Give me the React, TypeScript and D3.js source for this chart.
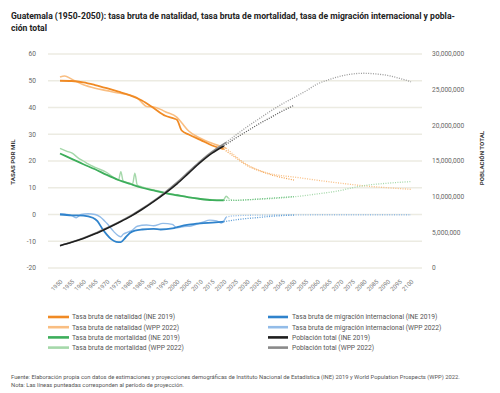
import * as d3 from "d3"

// Tasa bruta de natalidad (por mil)
const natINE: [number, number][] = [[1950, 50.0], [1955, 49.9], [1960, 49.4], [1965, 48.4], [1970, 47.2], [1975, 45.9], [1980, 44.5], [1985, 42.6], [1990, 39.8], [1995, 36.9], [1999, 35.8], [2000, 35.4], [2002, 31.4], [2005, 29.9], [2010, 27.9], [2015, 25.8], [2020, 24.4]]
const natINEProj: [number, number][] = [[2020, 24.4], [2025, 21.3], [2030, 18.3], [2035, 16.4], [2040, 14.9], [2045, 13.8], [2050, 12.9]]
const natWPP: [number, number][] = [[1950, 51.4], [1952, 51.8], [1955, 50.6], [1960, 48.5], [1965, 47.2], [1970, 46.3], [1975, 45.4], [1980, 44.6], [1983, 43.6], [1985, 41.8], [1987, 40.4], [1990, 40.2], [1993, 39.3], [1995, 38.4], [2000, 36.3], [2002, 34.3], [2005, 31.2], [2010, 28.5], [2015, 26.6], [2021, 24.8]]
const natWPPProj: [number, number][] = [[2021, 24.8], [2025, 21.8], [2030, 18.6], [2035, 16.6], [2040, 15.2], [2045, 14.5], [2050, 14.0], [2060, 12.8], [2070, 11.7], [2080, 10.7], [2090, 10.0], [2100, 9.4]]

// Tasa bruta de mortalidad
const morINE: [number, number][] = [[1950, 22.8], [1955, 20.8], [1960, 18.8], [1965, 16.9], [1970, 14.8], [1975, 12.9], [1980, 11.4], [1985, 10.0], [1990, 9.0], [1995, 8.0], [2000, 7.2], [2005, 6.4], [2010, 5.8], [2015, 5.4], [2020, 5.3]]
const morINEProj: [number, number][] = [[2020, 5.3], [2025, 5.3], [2030, 5.5], [2035, 5.8], [2040, 6.1], [2045, 6.4], [2050, 6.7]]
const morWPP: [number, number][] = [[1950, 24.7], [1953, 23.6], [1955, 23.0], [1958, 21.0], [1960, 20.0], [1962, 18.9], [1965, 17.6], [1970, 15.7], [1973, 13.8], [1975, 12.9], [1976, 16.0], [1977, 12.5], [1980, 11.7], [1981, 11.4], [1982, 15.4], [1983, 11.0], [1985, 10.3], [1990, 9.2], [1995, 8.2], [2000, 7.3], [2005, 6.5], [2010, 5.9], [2015, 5.5], [2019, 5.4], [2020, 5.6], [2021, 6.8], [2022, 6.0]]
const morWPPProj: [number, number][] = [[2022, 6.0], [2025, 5.3], [2030, 5.5], [2040, 5.9], [2050, 6.6], [2060, 7.7], [2070, 9.0], [2075, 10.0], [2080, 10.8], [2090, 11.7], [2100, 12.3]]

// Tasa bruta de migración internacional
const migINE: [number, number][] = [[1950, 0.0], [1955, -0.3], [1960, -0.4], [1964, -1.2], [1966, -2.5], [1968, -5.2], [1970, -7.5], [1972, -9.3], [1974, -10.2], [1976, -10.3], [1978, -8.6], [1980, -6.8], [1982, -6.0], [1985, -5.6], [1990, -5.4], [1993, -5.6], [1998, -5.2], [2001, -4.5], [2005, -3.8], [2010, -3.3], [2015, -3.0], [2020, -2.7]]
const migINEProj: [number, number][] = [[2020, -2.7], [2025, -2.0], [2030, -1.5], [2035, -1.1], [2040, -0.7], [2045, -0.4], [2050, -0.2]]
const migWPP: [number, number][] = [[1950, 0.3], [1955, -0.4], [1957, -1.2], [1959, 0.0], [1962, 0.3], [1965, 0.0], [1967, -0.8], [1970, -3.3], [1973, -6.4], [1975, -8.0], [1976, -8.3], [1977, -7.4], [1979, -6.6], [1981, -5.8], [1983, -4.4], [1987, -3.9], [1990, -4.2], [1994, -3.3], [1998, -3.7], [2000, -5.0], [2003, -4.5], [2006, -4.3], [2011, -2.9], [2014, -2.1], [2017, -2.4], [2019, -3.2], [2021, -1.0]]
const migWPPProj: [number, number][] = [[2021, -1.0], [2023, -0.6], [2030, -0.3], [2040, -0.2], [2060, -0.1], [2100, -0.1]]

// Población total (millones)
const popINE: [number, number][] = [[1950, 3.12], [1955, 3.6], [1960, 4.15], [1965, 4.8], [1970, 5.55], [1975, 6.35], [1980, 7.2], [1985, 8.2], [1990, 9.3], [1995, 10.5], [2000, 11.8], [2005, 13.3], [2010, 14.8], [2015, 16.1], [2020, 17.1]]
const popINEProj: [number, number][] = [[2020, 17.1], [2025, 18.2], [2030, 19.2], [2035, 20.2], [2040, 21.1], [2045, 22.0], [2050, 22.8]]
const popWPP: [number, number][] = [[1950, 3.15], [1955, 3.64], [1960, 4.2], [1965, 4.86], [1970, 5.62], [1975, 6.42], [1980, 7.28], [1985, 8.3], [1990, 9.4], [1995, 10.65], [2000, 12.0], [2005, 13.5], [2010, 15.0], [2015, 16.3], [2021, 17.6]]
const popWPPProj: [number, number][] = [[2021, 17.6], [2025, 18.6], [2030, 19.8], [2035, 20.9], [2040, 22.0], [2045, 23.0], [2050, 23.9], [2055, 24.8], [2060, 25.8], [2065, 26.4], [2070, 26.9], [2075, 27.2], [2080, 27.3], [2085, 27.2], [2090, 27.0], [2095, 26.6], [2100, 26.1]]

const leftTicks = [-20, -10, 0, 10, 20, 30, 40, 50, 60]
const rightTicks = [0, 5000000, 10000000, 15000000, 20000000, 25000000, 30000000]
const yearTicks = d3.range(1950, 2101, 5)

const legendLeft = [
  { label: "Tasa bruta de natalidad (INE 2019)", color: "#F08A24" },
  { label: "Tasa bruta de natalidad (WPP 2022)", color: "#F9BE82" },
  { label: "Tasa bruta de mortalidad (INE 2019)", color: "#3DAE5B" },
  { label: "Tasa bruta de mortalidad (WPP 2022)", color: "#A5D8AA" },
]
const legendRight = [
  { label: "Tasa bruta de migración internacional (INE 2019)", color: "#2F83CC" },
  { label: "Tasa bruta de migración internacional  (WPP 2022)", color: "#93BCE8" },
  { label: "Población total (INE 2019)", color: "#1E1E1E" },
  { label: "Población total  (WPP 2022)", color: "#8A8A8A" },
]

const FONT = "Roboto, sans-serif"

export default function App() {
  const x = d3.scaleLinear().domain([1950, 2100]).range([60, 411])
  const yL = d3.scaleLinear().domain([-20, 60]).range([268, 54])
  const yR = d3.scaleLinear().domain([0, 30000000]).range([268, 54])

  const rateLine = d3.line<[number, number]>().x((d) => x(d[0])).y((d) => yL(d[1])).curve(d3.curveMonotoneX)
  const popLine = d3.line<[number, number]>().x((d) => x(d[0])).y((d) => yR(d[1] * 1e6)).curve(d3.curveMonotoneX)

  const solid = [
    { d: rateLine(natWPP), c: "#F9BE82", w: 1.6 },
    { d: rateLine(natINE), c: "#F08A24", w: 1.8 },
    { d: rateLine(morWPP), c: "#A5D8AA", w: 1.4 },
    { d: rateLine(morINE), c: "#3DAE5B", w: 1.8 },
    { d: rateLine(migWPP), c: "#93BCE8", w: 1.4 },
    { d: rateLine(migINE), c: "#2F83CC", w: 1.8 },
    { d: popLine(popWPP), c: "#8A8A8A", w: 1.6 },
    { d: popLine(popINE), c: "#1E1E1E", w: 1.6 },
  ]
  const dotted = [
    { d: rateLine(natWPPProj), c: "#F9BE82" },
    { d: rateLine(natINEProj), c: "#F3A24E" },
    { d: rateLine(morWPPProj), c: "#A5D8AA" },
    { d: rateLine(morINEProj), c: "#6CC281" },
    { d: rateLine(migWPPProj), c: "#93BCE8" },
    { d: rateLine(migINEProj), c: "#5A9BD6" },
    { d: popLine(popWPPProj), c: "#9A9A9A" },
    { d: popLine(popINEProj), c: "#555" },
  ]
  const fmt = d3.format(",")

  return (
    <svg width={500} height={393} style={{ position: "absolute", left: 0, top: 0, background: "#fff" }} fontFamily={FONT}>
      <text x={11} y={19} fontSize={8.6} fontWeight={700} fill="#222">
        Guatemala (1950-2050): tasa bruta de natalidad, tasa bruta de mortalidad, tasa de migración internacional y pobla-
      </text>
      <text x={11} y={31} fontSize={8.6} fontWeight={700} fill="#222">ción total</text>

      {leftTicks.map((t) => (
        <g key={t}>
          <line x1={48} x2={422} y1={yL(t)} y2={yL(t)} stroke="#ECEBE2" strokeWidth={1.4} />
          <text x={36} y={yL(t)} dy="0.35em" textAnchor="end" fontSize={6.6} fill="#666">{t}</text>
        </g>
      ))}
      {rightTicks.map((t) => (
        <text key={t} x={432} y={yR(t)} dy="0.35em" fontSize={6.6} fill="#666">{fmt(t)}</text>
      ))}
      <text transform="translate(15,162) rotate(-90)" textAnchor="middle" fontSize={6.2} fontWeight={700} fill="#333">TASAS POR MIL</text>
      <text transform="translate(484,158) rotate(-90)" textAnchor="middle" fontSize={6.2} fontWeight={700} fill="#333">POBLACIÓN TOTAL</text>

      {yearTicks.map((t) => (
        <text key={t} transform={`translate(${x(t) + 3},282) rotate(-45)`} textAnchor="end" fontSize={6} fill="#777">{t}</text>
      ))}

      {solid.map((s, i) => (
        <path key={i} d={s.d ?? ""} fill="none" stroke={s.c} strokeWidth={s.w} strokeLinejoin="round" />
      ))}
      {dotted.map((s, i) => (
        <path key={i} d={s.d ?? ""} fill="none" stroke={s.c} strokeWidth={1.3} strokeDasharray="1 1.4" />
      ))}

      {legendLeft.map((l, i) => (
        <g key={l.label} transform={`translate(48,${317 + i * 10.2})`}>
          <line x1={0} x2={21} y1={0} y2={0} stroke={l.color} strokeWidth={2.6} />
          <text x={24} y={0} dy="0.35em" fontSize={6.7} fill="#555">{l.label}</text>
        </g>
      ))}
      {legendRight.map((l, i) => (
        <g key={l.label} transform={`translate(268,${317 + i * 10.2})`}>
          <line x1={0} x2={20} y1={0} y2={0} stroke={l.color} strokeWidth={2.6} />
          <text x={24} y={0} dy="0.35em" fontSize={6.7} fill="#555">{l.label}</text>
        </g>
      ))}

      <text x={11} y={379} fontSize={5.8} fill="#555">
        Fuente: Elaboración propia con datos de estimaciones y proyecciones demográficas de Instituto Nacional de Estadística (INE) 2019 y World Population Prospects (WPP) 2022.
      </text>
      <text x={11} y={386.5} fontSize={5.8} fill="#555">
        Nota: Las líneas punteadas corresponden al período de proyección.
      </text>
    </svg>
  )
}
